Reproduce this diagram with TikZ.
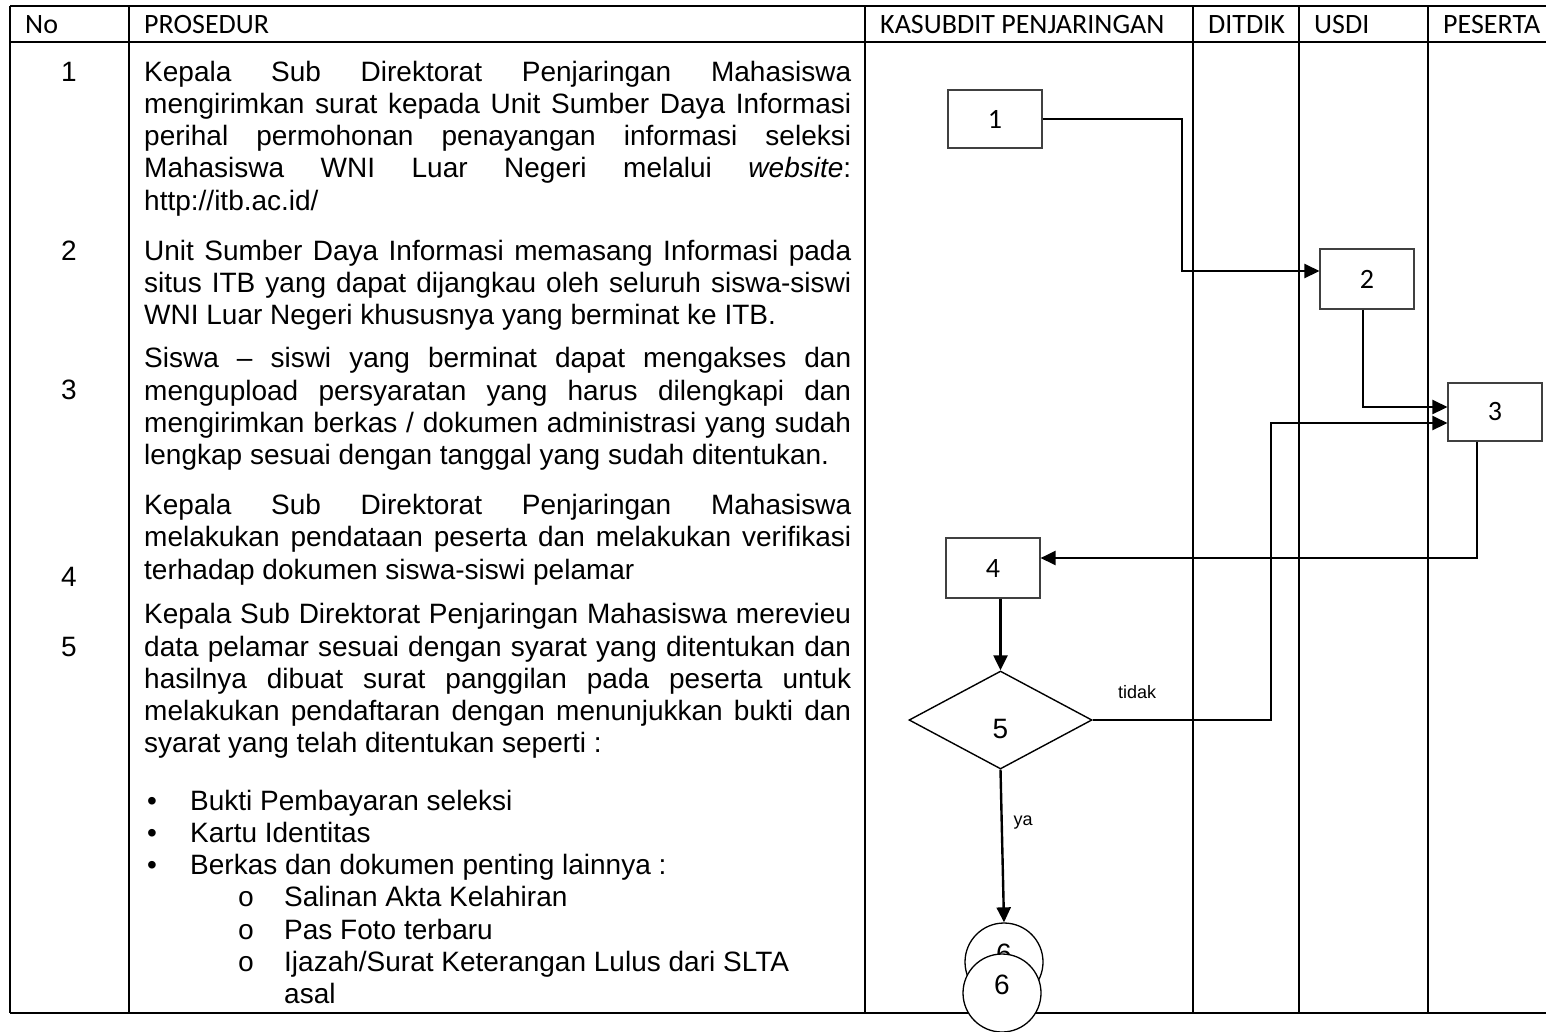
\documentclass[tikz,border=0pt]{standalone}
\usepackage{fontspec}
\setmainfont{Liberation Sans}
\newfontfamily\hdrfont{Carlito}
\newfontfamily\monofnt{Liberation Mono}
\usetikzlibrary{arrows.meta,shapes.geometric,calc}
\newcommand\pjust[3]{\node[txt] (#1) at (144,#2) {\makebox[707pt][s]{#3}};}
\newcommand\pnat[3]{\node[txt] (#1) at (144,#2) {#3};}
\begin{document}
\begin{tikzpicture}[x=1pt,y=-1pt,
  txt/.style={anchor=base west,inner sep=0pt,font=\fontsize{28}{32}\selectfont},
  num/.style={anchor=base,inner sep=0pt,font=\fontsize{28}{32}\selectfont},
  hdr/.style={anchor=base west,inner sep=0pt,font=\hdrfont\fontsize{28}{32}\selectfont},
  hline/.style={line width=2.6pt},
  vline/.style={line width=2pt},
  stepbox/.style={draw=black!75,fill=white,line width=1.1pt,minimum width=94pt,minimum height=59pt,inner sep=0pt,font=\hdrfont\fontsize{28}{32}\selectfont},
  decide/.style={diamond,draw=black,fill=white,line width=1.4pt,minimum width=183pt,minimum height=98pt,inner sep=0pt,font=\fontsize{28}{32}\selectfont},
  conncirc/.style={circle,draw=black,fill=white,line width=1.3pt,minimum size=78pt,inner sep=0pt,font=\fontsize{28}{32}\selectfont},
  conn/.style={line width=2.4pt,-{Triangle[length=15pt,width=14pt]}},
  lbl/.style={inner sep=0pt,font=\fontsize{18}{20}\selectfont}
]
\useasboundingbox (0,0) rectangle (1546,1031);

% table grid
\draw[hline] (10,6) -- (1546,6);
\draw[hline] (10,42) -- (1546,42);
\draw[hline] (10,1013) -- (1546,1013);
\foreach \xx in {10,129,865,1193,1299,1428}
  \draw[vline] (\xx,6) -- (\xx,1013);

% header
\node[hdr] (hNo) at (25,33) {No};
\node[hdr] (hPro) at (144,33) {PROSEDUR};
\node[hdr] (hKas) at (880,33) {KASUBDIT PENJARINGAN};
\node[hdr] (hDit) at (1208,33) {DITDIK};
\node[hdr] (hUsd) at (1314,33) {USDI};
\node[hdr] (hPes) at (1443,33) {PESERTA};

% numbers
\node[num] (n1) at (69,81.3) {1};
\node[num] (n2) at (69,260.3) {2};
\node[num] (n3) at (69,399.1) {3};
\node[num] (n4) at (69,586) {4};
\node[num] (n5) at (69,656) {5};

% paragraph 1
\pjust{p1a}{81.3}{Kepala Sub Direktorat Penjaringan Mahasiswa}
\pjust{p1b}{113.5}{mengirimkan surat kepada Unit Sumber Daya Informasi}
\pjust{p1c}{145.7}{perihal permohonan penayangan informasi seleksi}
\pjust{p1d}{177.9}{Mahasiswa WNI Luar Negeri melalui \textit{website}:}
\pnat{p1e}{210.1}{http://itb.ac.id/}
% paragraph 2
\pjust{p2a}{260.3}{Unit Sumber Daya Informasi memasang Informasi pada}
\pjust{p2b}{292.5}{situs ITB yang dapat dijangkau oleh seluruh siswa-siswi}
\pnat{p2c}{324.7}{WNI Luar Negeri khususnya yang berminat ke ITB.}
% paragraph 3
\pjust{p3a}{367.9}{Siswa – siswi yang berminat dapat mengakses dan}
\pjust{p3b}{400.1}{mengupload persyaratan yang harus dilengkapi dan}
\pjust{p3c}{432.3}{mengirimkan berkas / dokumen administrasi yang sudah}
\pnat{p3d}{464.5}{lengkap sesuai dengan tanggal yang sudah ditentukan.}
% paragraph 4
\pjust{p4a}{514.7}{Kepala Sub Direktorat Penjaringan Mahasiswa}
\pjust{p4b}{546.9}{melakukan pendataan peserta dan melakukan verifikasi}
\pnat{p4c}{579.1}{terhadap dokumen siswa-siswi pelamar}
% paragraph 5
\pjust{p5a}{623.8}{Kepala Sub Direktorat Penjaringan Mahasiswa merevieu}
\pjust{p5b}{656}{data pelamar sesuai dengan syarat yang ditentukan dan}
\pjust{p5c}{688.2}{hasilnya dibuat surat panggilan pada peserta untuk}
\pjust{p5d}{720.4}{melakukan pendaftaran dengan menunjukkan bukti dan}
\pnat{p5e}{752.6}{syarat yang telah ditentukan seperti :}
% list
\node[num] (b1d) at (152,810.3) {•};
\node[txt] (l1) at (190,810.3) {Bukti Pembayaran seleksi};
\node[num] (b2d) at (152,842.5) {•};
\node[txt] (l2) at (190,842.5) {Kartu Identitas};
\node[num] (b3d) at (152,874.7) {•};
\node[txt] (l3) at (190,874.7) {Berkas dan dokumen penting lainnya :};
\node[num,font=\monofnt\fontsize{28}{32}\selectfont] (s1d) at (246,906.9) {o};
\node[txt] (s1) at (284,906.9) {Salinan Akta Kelahiran};
\node[num,font=\monofnt\fontsize{28}{32}\selectfont] (s2d) at (246,939.1) {o};
\node[txt] (s2) at (284,939.1) {Pas Foto terbaru};
\node[num,font=\monofnt\fontsize{28}{32}\selectfont] (s3d) at (246,971.3) {o};
\node[txt] (s3) at (284,971.3) {Ijazah/Surat Keterangan Lulus dari SLTA};
\node[txt] (s3b) at (284,1003.5) {asal};

% flowchart
\node[stepbox,minimum height=58pt] (b1) at (995,119) {1};
\node[stepbox,minimum height=60pt] (b2) at (1367,279) {2};
\node[stepbox,minimum height=58pt] (b3) at (1495,412) {3};
\node[stepbox,minimum height=60pt] (b4) at (993,568) {4};
\node[decide] (d5) at (1000.5,720) {\smash{\raisebox{-18pt}{5}}};

\coordinate (k1) at (1182,271);
\coordinate (k3) at (1271,423);
\draw[conn] (b1.east) -| (k1) -- ([yshift=8pt]b2.west);
\draw[conn] ([xshift=-4pt]b2.south) |- ([yshift=5pt]b3.west);
\draw[conn] (d5.east) -| (k3) -- ([yshift=-11pt]b3.west);
\draw[conn] ([xshift=-18pt]b3.south) |- ([yshift=10pt]b4.east);
\draw[conn] (d5.north |- b4.south) -- (d5.north);

\node[lbl] (tdk) at (1137,692) {tidak};
\node[lbl] (ya) at (1023,823) {ya};

\node[conncirc] (c6a) at (1004,962) {\smash{\raisebox{-1pt}{6}}};
\draw[conn] (d5.south) -- (c6a.north);
\node[conncirc] (c6b) at (1002,993) {\smash{\raisebox{-1pt}{6}}};
\end{tikzpicture}
\end{document}
